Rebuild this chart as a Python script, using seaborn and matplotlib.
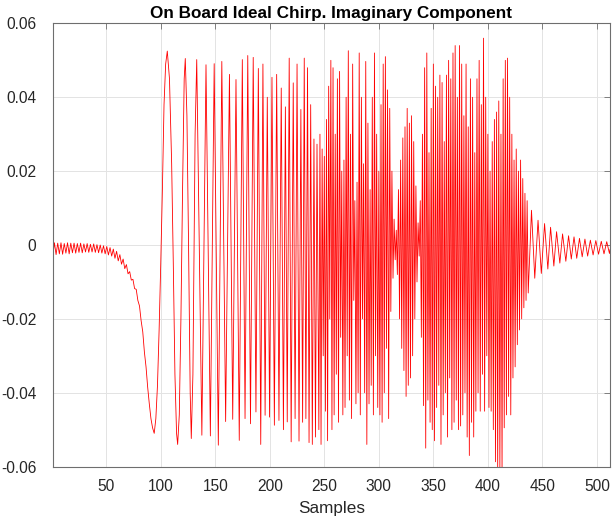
import numpy as np
import pandas as pd
import matplotlib
matplotlib.use("Agg")
import matplotlib.pyplot as plt
import seaborn as sns

# --------------------
# DATA
# --------------------

# quiet lead-in ripple and the first negative swing (samples 1 .. 104.5)
lead_x = np.arange(1, 105, 1.5)
lead_y = [-0.0030, 0.0006, -0.0026, 0.0005, -0.0024, 0.0006, -0.0025, 0.0004, -0.0022, 0.0006,
          -0.0024, 0.0005, -0.0021, 0.0005, -0.0022, 0.0004, -0.0020, 0.0005, -0.0021, 0.0003,
          -0.0019, 0.0004, -0.0020, 0.0002, -0.0019, 0.0003, -0.0020, 0.0001, -0.0021, 0.0000,
          -0.0022, -0.0002, -0.0024, -0.0004, -0.0027, -0.0007, -0.0030, -0.0011, -0.0036, -0.0017,
          -0.0043, -0.0026, -0.0052, -0.0038, -0.0064, -0.0053, -0.0078, -0.0072, -0.0095, -0.0093,
          -0.0118, -0.0120, -0.0150, -0.0165, -0.0205, -0.0235, -0.0290, -0.0330, -0.0385, -0.0430,
          -0.0470, -0.0495, -0.0510, -0.0470, -0.0380, -0.0230, -0.0050, 0.0150, 0.0380, 0.0490]

# chirp turning points while the oscillation is still resolvable
chirp_x = [106, 108, 110, 111.5, 113, 114.5, 115.5, 117, 118.5, 120,
           121.5, 122.5, 124, 125.5, 127, 128, 129.5, 131.5, 133, 137.7,
           141.5, 145.5, 149, 152.8, 156, 159.5, 163, 166, 169, 172,
           174.8, 177.3, 179.8, 182.3, 184.8, 187.3, 189.5, 191.7, 193.7, 195.7,
           197.7, 199.8, 202, 204.2, 206.3, 208.4, 210.5, 212.5, 214.3, 216,
           217.8, 219.6, 221.5, 223.2, 225, 226.8, 228.5, 230.1, 231.6, 233.1,
           234.6, 236, 237.5, 239, 240.5, 241.9, 243.3]
chirp_y = [0.0525, 0.045, 0.022, -0.005, -0.035, -0.051, -0.054, -0.046, -0.020, 0.015,
           0.045, 0.0505, 0.035, 0.000, -0.040, -0.0524, -0.035, 0.030, 0.0502, -0.0515,
           0.0488, -0.0517, 0.0491, -0.0542, 0.0497, -0.0478, 0.0462, -0.0472, 0.0448, -0.0529,
           0.0502, -0.0470, 0.0513, -0.0484, 0.0508, -0.0452, 0.0478, -0.0540, 0.0490, -0.0461,
           0.0400, -0.0466, 0.0454, -0.0488, 0.0462, -0.0475, 0.0425, -0.0500, 0.0374, -0.0479,
           0.0506, -0.0533, 0.0439, -0.0470, 0.0490, -0.0531, 0.0367, -0.0480, 0.0506, -0.0470,
           0.0480, -0.0535, 0.0380, -0.0540, 0.0287, -0.0520, 0.0273]

# dense part, one value per sample from 245 on
dense_y = [-0.050, 0.030, -0.054, 0.026, -0.030, 0.024, -0.045, 0.034, -0.053, 0.043,   # 245
           -0.020, 0.050, -0.050, 0.048, -0.046, 0.030, -0.035, 0.045, -0.048, 0.047,   # 255
           -0.025, 0.020, -0.046, 0.023, -0.044, 0.040, -0.030, 0.0526, -0.042, 0.030,  # 265
           -0.047, 0.049, -0.015, 0.012, -0.043, 0.017, -0.040, 0.052, -0.046, 0.040,   # 275
           -0.020, 0.022, -0.040, 0.0497, -0.054, 0.033, -0.043, 0.015, -0.038, 0.040,  # 285
           -0.046, 0.052, -0.030, 0.030, -0.044, 0.020, -0.046, 0.038, -0.048, 0.049,   # 295
           -0.040, 0.051, -0.028, 0.042, -0.047, 0.037, -0.018, 0.020, -0.009, 0.007,   # 305
           -0.004, 0.004, -0.008, 0.015, -0.020, 0.023, -0.028, 0.029, -0.034, 0.032,   # 315
           -0.041, 0.037, -0.038, 0.033, -0.036, 0.035, -0.030, 0.028, -0.020, 0.016,   # 325
           -0.010, 0.006, -0.003, 0.012, -0.025, 0.030, -0.0435, 0.048, -0.055, 0.052,  # 335
           -0.042, 0.025, -0.048, 0.037, -0.050, 0.049, -0.053, 0.043, -0.044, 0.040,   # 345
           -0.038, 0.046, -0.054, 0.044, -0.046, 0.028, -0.040, 0.046, -0.052, 0.050,   # 355
           -0.036, 0.045, -0.050, 0.052, -0.048, 0.054, -0.042, 0.040, -0.050, 0.054,   # 365
           -0.049, 0.049, -0.046, 0.035, -0.040, 0.049, -0.052, 0.032, -0.057, 0.045,   # 375
           -0.048, 0.040, -0.052, 0.025, -0.045, 0.045, -0.040, 0.050, -0.045, 0.038,   # 385
           -0.035, 0.056, -0.045, 0.040, -0.030, 0.030, -0.044, 0.020, -0.045, 0.028,   # 395
           -0.050, 0.034, -0.0587, 0.036, -0.062, 0.039, -0.061, 0.030, -0.062, 0.045,  # 405
           -0.0495, 0.050, -0.046, 0.0506, -0.041, 0.040, -0.046, 0.030, -0.036, 0.023, # 415
           -0.033, 0.026, -0.027, 0.020, -0.023, 0.023, -0.020, 0.018, -0.017, 0.014,   # 425
           -0.015, 0.012, -0.013]                                                       # 435
dense_x = np.arange(245, 245 + len(dense_y))

# decaying ringing at the end
tail_x = [440, 443, 446, 449, 452, 455, 457.5, 460.5, 463, 466,
          468.5, 471.5, 474, 476.5, 479, 481.5, 484, 486.5, 489, 491.5,
          494, 496.5, 499, 501.5, 504, 506.5, 509, 511.5, 512]
tail_y = [0.0094, -0.0090, 0.0067, -0.0077, 0.0058, -0.0065, 0.0048, -0.0057, 0.0036, -0.0049,
          0.0030, -0.0044, 0.0025, -0.0038, 0.0022, -0.0036, 0.0018, -0.0032, 0.0016, -0.0030,
          0.0013, -0.0027, 0.0012, -0.0025, 0.0010, -0.0024, 0.0009, -0.0023, -0.0012]

x_ticks = [50, 100, 150, 200, 250, 300, 350, 400, 450, 500]
y_ticks = [-0.06, -0.04, -0.02, 0, 0.02, 0.04, 0.06]
y_tick_labels = ["-0.06", "-0.04", "-0.02", "0", "0.02", "0.04", "0.06"]

df = pd.DataFrame({
    "Samples": np.concatenate([lead_x, chirp_x, dense_x, tail_x]),
    "Value": np.concatenate([lead_y, chirp_y, dense_y, tail_y]),
})

# --------------------
# PLOT
# --------------------
sns.set_style("whitegrid")
plt.rcParams["font.family"] = ["Liberation Sans", "DejaVu Sans"]

fig = plt.figure(figsize=(6.13, 5.18), dpi=100)
ax = fig.add_axes([52.8 / 613, 1 - 466.6 / 518, (610 - 52.8) / 613, (466.6 - 23.4) / 518])

sns.lineplot(data=df, x="Samples", y="Value", color="#ff0000", linewidth=0.6,
             estimator=None, sort=False, ax=ax)

ax.set_xlim(1, 512)
ax.set_ylim(-0.06, 0.06)
ax.set_xticks(x_ticks)
ax.set_yticks(y_ticks)
ax.set_yticklabels(y_tick_labels)
ax.set_xlabel("Samples", fontsize=12.3, color="#262626", labelpad=5)
ax.set_ylabel("")
ax.set_title("On Board Ideal Chirp. Imaginary Component", fontsize=12.3,
             fontweight="bold", color="black", pad=4)

ax.grid(True, color="#e3e3e3", linewidth=0.7)
for side in ["left", "right", "top", "bottom"]:
    ax.spines[side].set_visible(True)
    ax.spines[side].set_color("#6e6e6e")
    ax.spines[side].set_linewidth(0.8)
ax.tick_params(axis="both", direction="in", length=4, width=0.6, color="#6e6e6e",
               labelsize=11.2, labelcolor="#262626", top=True, right=True)
ax.tick_params(axis="y", pad=12)
ax.tick_params(axis="x", pad=9)

fig.savefig("out.png", dpi=100)
plt.close()
